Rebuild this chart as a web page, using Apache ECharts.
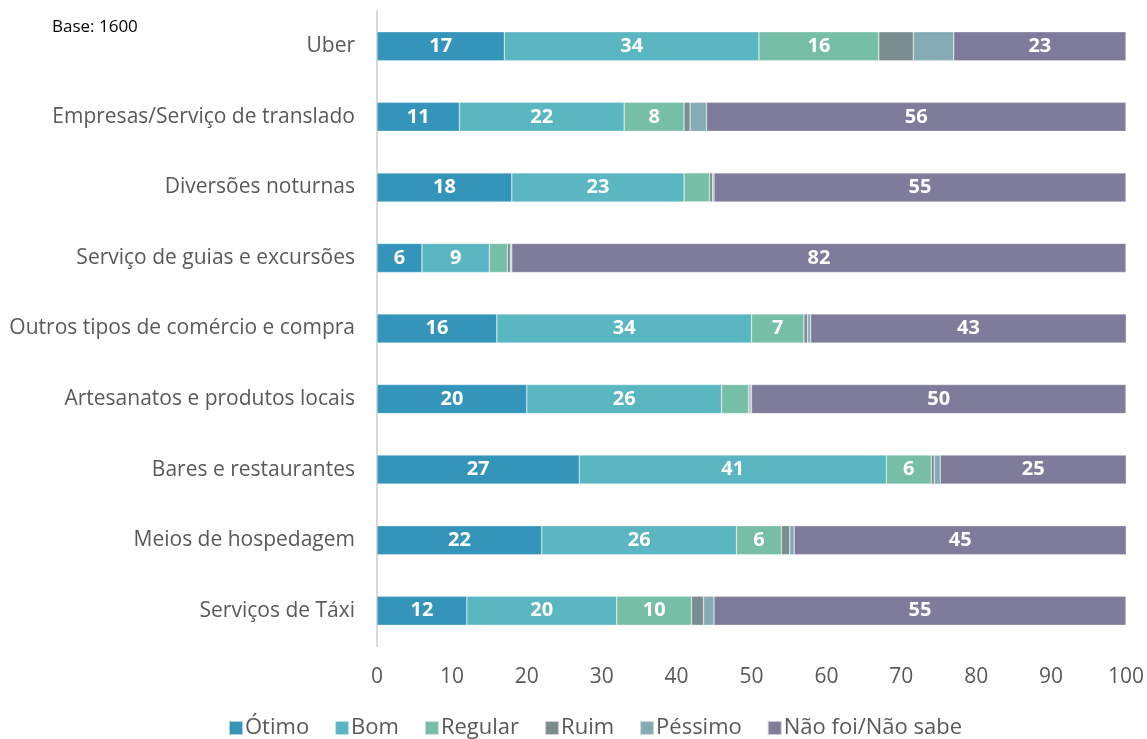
<!DOCTYPE html>
<html>
<head>
<meta charset="utf-8">
<script src="https://cdn.jsdelivr.net/npm/echarts@6/dist/echarts.min.js"></script>
<style>
  html, body { margin: 0; padding: 0; background: #fff; }
  #chart { width: 1147px; height: 739px; }
</style>
</head>
<body>
<div id="chart"></div>
<script>
// Avaliação dos serviços turísticos (%), base: 1600 entrevistados
const categories = [
  'Uber',
  'Empresas/Serviço de translado',
  'Diversões noturnas',
  'Serviço de guias e excursões',
  'Outros tipos de comércio e compra',
  'Artesanatos e produtos locais',
  'Bares e restaurantes',
  'Meios de hospedagem',
  'Serviços de Táxi'
];
const otimo   = [17, 11, 18,  6, 16, 20, 27, 22, 12];
const bom     = [34, 22, 23,  9, 34, 26, 41, 26, 20];
const regular = [16,  8, 3.4, 2.4, 7, 3.6, 6,  6, 10];
const ruim    = [4.6, 0.8, 0.4, 0.4, 0.5, 0.2, 0.4, 1.1, 1.6];
const pessimo = [5.4, 2.2, 0.2, 0.2, 0.4, 0.2, 0.8, 0.6, 1.4];
const naoFoi  = [23, 56, 55, 82, 43, 50, 25, 45, 55];
const xTicks  = [0, 10, 20, 30, 40, 50, 60, 70, 80, 90, 100];

const seriesDefs = [
  { name: 'Ótimo', data: otimo, color: '#3494BA' },
  { name: 'Bom', data: bom, color: '#5AB7C1' },
  { name: 'Regular', data: regular, color: '#77BEA7' },
  { name: 'Ruim', data: ruim, color: '#7A8C8E' },
  { name: 'Péssimo', data: pessimo, color: '#85ABB6' },
  { name: 'Não foi/Não sabe', data: naoFoi, color: '#7F7B9A' }
];

const chart = echarts.init(document.getElementById('chart'));
chart.setOption({
  animation: false,
  backgroundColor: '#ffffff',
  graphic: [{
    type: 'text', left: 52, top: 19,
    style: { text: 'Base: 1600', fontSize: 17, fill: '#000', fontFamily: 'Open Sans, sans-serif' }
  }],
  legend: {
    bottom: -5, left: 223,
    itemWidth: 14, itemHeight: 14, itemGap: 25,
    icon: 'rect',
    textStyle: { fontSize: 22, color: '#595959', fontFamily: 'Liberation Sans Narrow, Open Sans, sans-serif', padding: [0, 0, 0, -3] },
    data: seriesDefs.map(s => s.name)
  },
  grid: { left: 377, right: 20, top: 11, bottom: 93, containLabel: false },
  xAxis: {
    type: 'value', min: xTicks[0], max: xTicks[xTicks.length - 1], interval: 10,
    axisLine: { show: false }, axisTick: { show: false }, splitLine: { show: false },
    axisLabel: { fontSize: 21, color: '#595959', margin: 21, fontFamily: 'Open Sans, sans-serif' }
  },
  yAxis: {
    type: 'category', inverse: true, data: categories,
    axisLine: { show: true, lineStyle: { color: '#D9D9D9', width: 2 } },
    axisTick: { show: false },
    axisLabel: { fontSize: 21, color: '#595959', margin: 22, fontFamily: 'Open Sans, sans-serif' }
  },
  series: seriesDefs.map(s => ({
    name: s.name, type: 'bar', stack: 'total', barWidth: 29,
    data: s.data,
    itemStyle: { color: s.color, borderColor: 'rgba(255,255,255,0.6)', borderWidth: 0.5 },
    label: {
      show: true, position: 'inside', color: '#fff', fontSize: 20, fontWeight: 'bold',
      fontFamily: 'Liberation Sans Narrow, Open Sans, sans-serif',
      formatter: p => (p.value >= 5.5 ? Math.round(p.value) : '')
    }
  }))
});
</script>
</body>
</html>
